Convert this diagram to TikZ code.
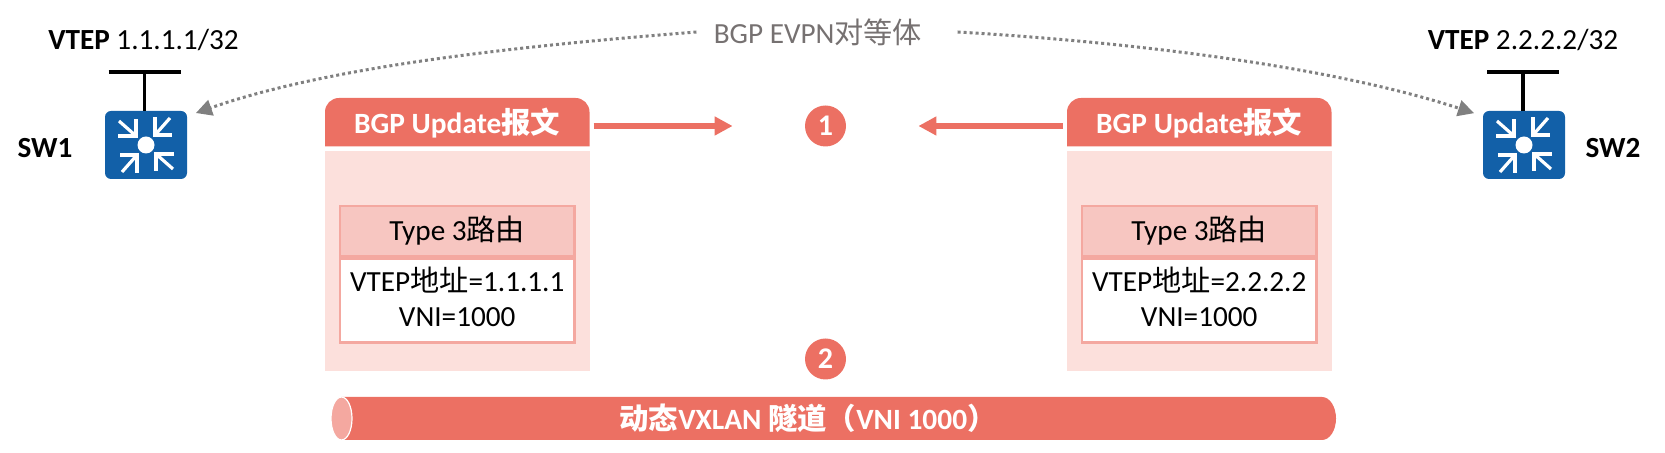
\documentclass[tikz,border=0pt]{standalone}
\usepackage{fontspec}
\setmainfont{Carlito}
\newfontfamily\cjk{Noto Sans CJK SC}
\usetikzlibrary{arrows.meta}

\definecolor{tunnelRed}{RGB}{236,112,99}
\definecolor{bodyPink}{RGB}{252,224,220}
\definecolor{typePink}{RGB}{247,198,193}
\definecolor{edgePink}{RGB}{244,168,160}
\definecolor{switchBlue}{RGB}{18,96,168}
\definecolor{peerGray}{RGB}{118,113,113}

\tikzset{
    label/.style = {inner sep = 0pt, font = \fontsize{14.6}{17}\selectfont},
    switchbox/.style = {fill = switchBlue, rounded corners = 3pt, inner sep = 0pt,
        minimum width = 41pt, minimum height = 34pt},
    stembar/.style = {line width = 1.6pt, black},
    peerline/.style = {line width = 1.5pt, gray, dash pattern = on 1.5pt off 1.5pt,
        -{Triangle[length = 8pt, width = 8pt]}, shorten > = 4.5pt},
    updateline/.style = {line width = 3pt, tunnelRed,
        -{Triangle[length = 9pt, width = 9pt]}, shorten > = 36pt, shorten < = 2pt},
    stepnum/.style = {circle, fill = tunnelRed, text = white, inner sep = 0pt,
        minimum size = 20.5pt, font = \fontsize{15}{17}\selectfont\bfseries},
    bodybox/.style = {fill = bodyPink, inner sep = 0pt, minimum width = 132.3pt,
        minimum height = 110pt},
    typebox/.style = {fill = typePink, draw = edgePink, line width = 1.3pt, inner sep = 0pt,
        minimum width = 117.3pt, minimum height = 25pt,
        font = \fontsize{14.6}{17}\selectfont},
    fieldbox/.style = {fill = white, draw = edgePink, line width = 1.3pt, inner sep = 0pt,
        minimum width = 117.3pt, minimum height = 42pt, align = center, text depth = 4.2pt,
        font = \fontsize{14.6}{17.5}\selectfont},
    headtext/.style = {inner sep = 0pt, text = white,
        font = \fontsize{14.7}{17}\selectfont\bfseries},
}

\begin{document}
\begin{tikzpicture}[x = 0.5pt, y = -0.5pt]
    \useasboundingbox (0,0) rectangle (1665,453);

    %Switches
    \node (swa) [switchbox] at (146,145) {};
    \node (swb) [switchbox] at (1524,145) {};
    \foreach \swname in {swa,swb} {
        \fill[white] (\swname.center) circle [radius = 8.5];
        \foreach \turn in {0,90,180,270} {
            \begin{scope}[shift = {(\swname.center)}, rotate = \turn, white, line width = 1.6pt]
                \draw (-27,-24) -- (-10,-9);
                \draw (-28,-9) -- (-10,-9) -- (-10,-26);
            \end{scope}
        }
    }

    %Stems above the switches
    \coordinate (stema) at (144.5,72);
    \coordinate (stemb) at (1523,72);
    \draw[stembar] (stema) -- (stema |- swa.north);
    \draw[stembar] (stemb) -- (stemb |- swb.north);
    \draw[stembar] ([xshift = -18pt]stema) -- ([xshift = 18pt]stema);
    \draw[stembar] ([xshift = -18pt]stemb) -- ([xshift = 18pt]stemb);

    %Labels
    \node (vtepa) [label] at (143.5,40) {\textbf{VTEP} 1.1.1.1/32};
    \node (vtepb) [label] at (1523,40) {\textbf{VTEP} 2.2.2.2/32};
    \node (namea) [label] at (45,148) {\textbf{SW1}};
    \node (nameb) [label] at (1613,148) {\textbf{SW2}};
    \node (peer) [label, text = peerGray] at (818,32) {BGP EVPN{\cjk 对等体}};

    %Peer curves
    \draw[peerline] ([xshift = -8.5pt]peer.west) .. controls (520,46) and (330,66) .. (swa.35);
    \draw[peerline] ([xshift = 17.5pt]peer.east) .. controls (1130,42) and (1330,66) .. (swb.145);

    %Left update message
    \node (bodya) [bodybox] at (457.2,261) {};
    \fill[tunnelRed] (325,146.5) [rounded corners = 7pt] -- (325,98) -- (589.5,98) [sharp corners] -- (589.5,146.5) -- cycle;
    \node (heada) [headtext] at (457.2,123.5) {BGP Update{\cjk 报文}};
    \node (typea) [typebox] at (457.2,231) {Type 3{\cjk 路由}};
    \node (fielda) [fieldbox, anchor = north] at (typea.south) {VTEP{\cjk 地址}=1.1.1.1\\VNI=1000};

    %Right update message
    \node (bodyb) [bodybox] at (1199.2,261) {};
    \fill[tunnelRed] (1067,146.5) [rounded corners = 7pt] -- (1067,98) -- (1331.5,98) [sharp corners] -- (1331.5,146.5) -- cycle;
    \node (headb) [headtext] at (1199.2,123.5) {BGP Update{\cjk 报文}};
    \node (typeb) [typebox] at (1199.2,231) {Type 3{\cjk 路由}};
    \node (fieldb) [fieldbox, anchor = north] at (typeb.south) {VTEP{\cjk 地址}=2.2.2.2\\VNI=1000};

    %Numbered steps
    \node (numa) [stepnum] at (825.5,126) {1};
    \node (numb) [stepnum] at (825.5,359) {2};
    \draw[updateline] (589.5,126 |- numa.west) -- (numa.west);
    \draw[updateline] (1067,126 |- numa.east) -- (numa.east);

    %Tunnel
    \fill[tunnelRed] (341.5,397) -- (1322,397) arc [start angle = -90, end angle = 90, x radius = 14, y radius = 21.5] -- (341.5,440) -- cycle;
    \draw[white, fill = edgePink, line width = 0.6pt] (341.5,418.5) ellipse [x radius = 10.5, y radius = 21.5];
    \node (tunnel) [headtext] at (808,418) {{\cjk 动态}VXLAN {\cjk 隧道（}VNI 1000{\cjk ）}};

\end{tikzpicture}
\end{document}
